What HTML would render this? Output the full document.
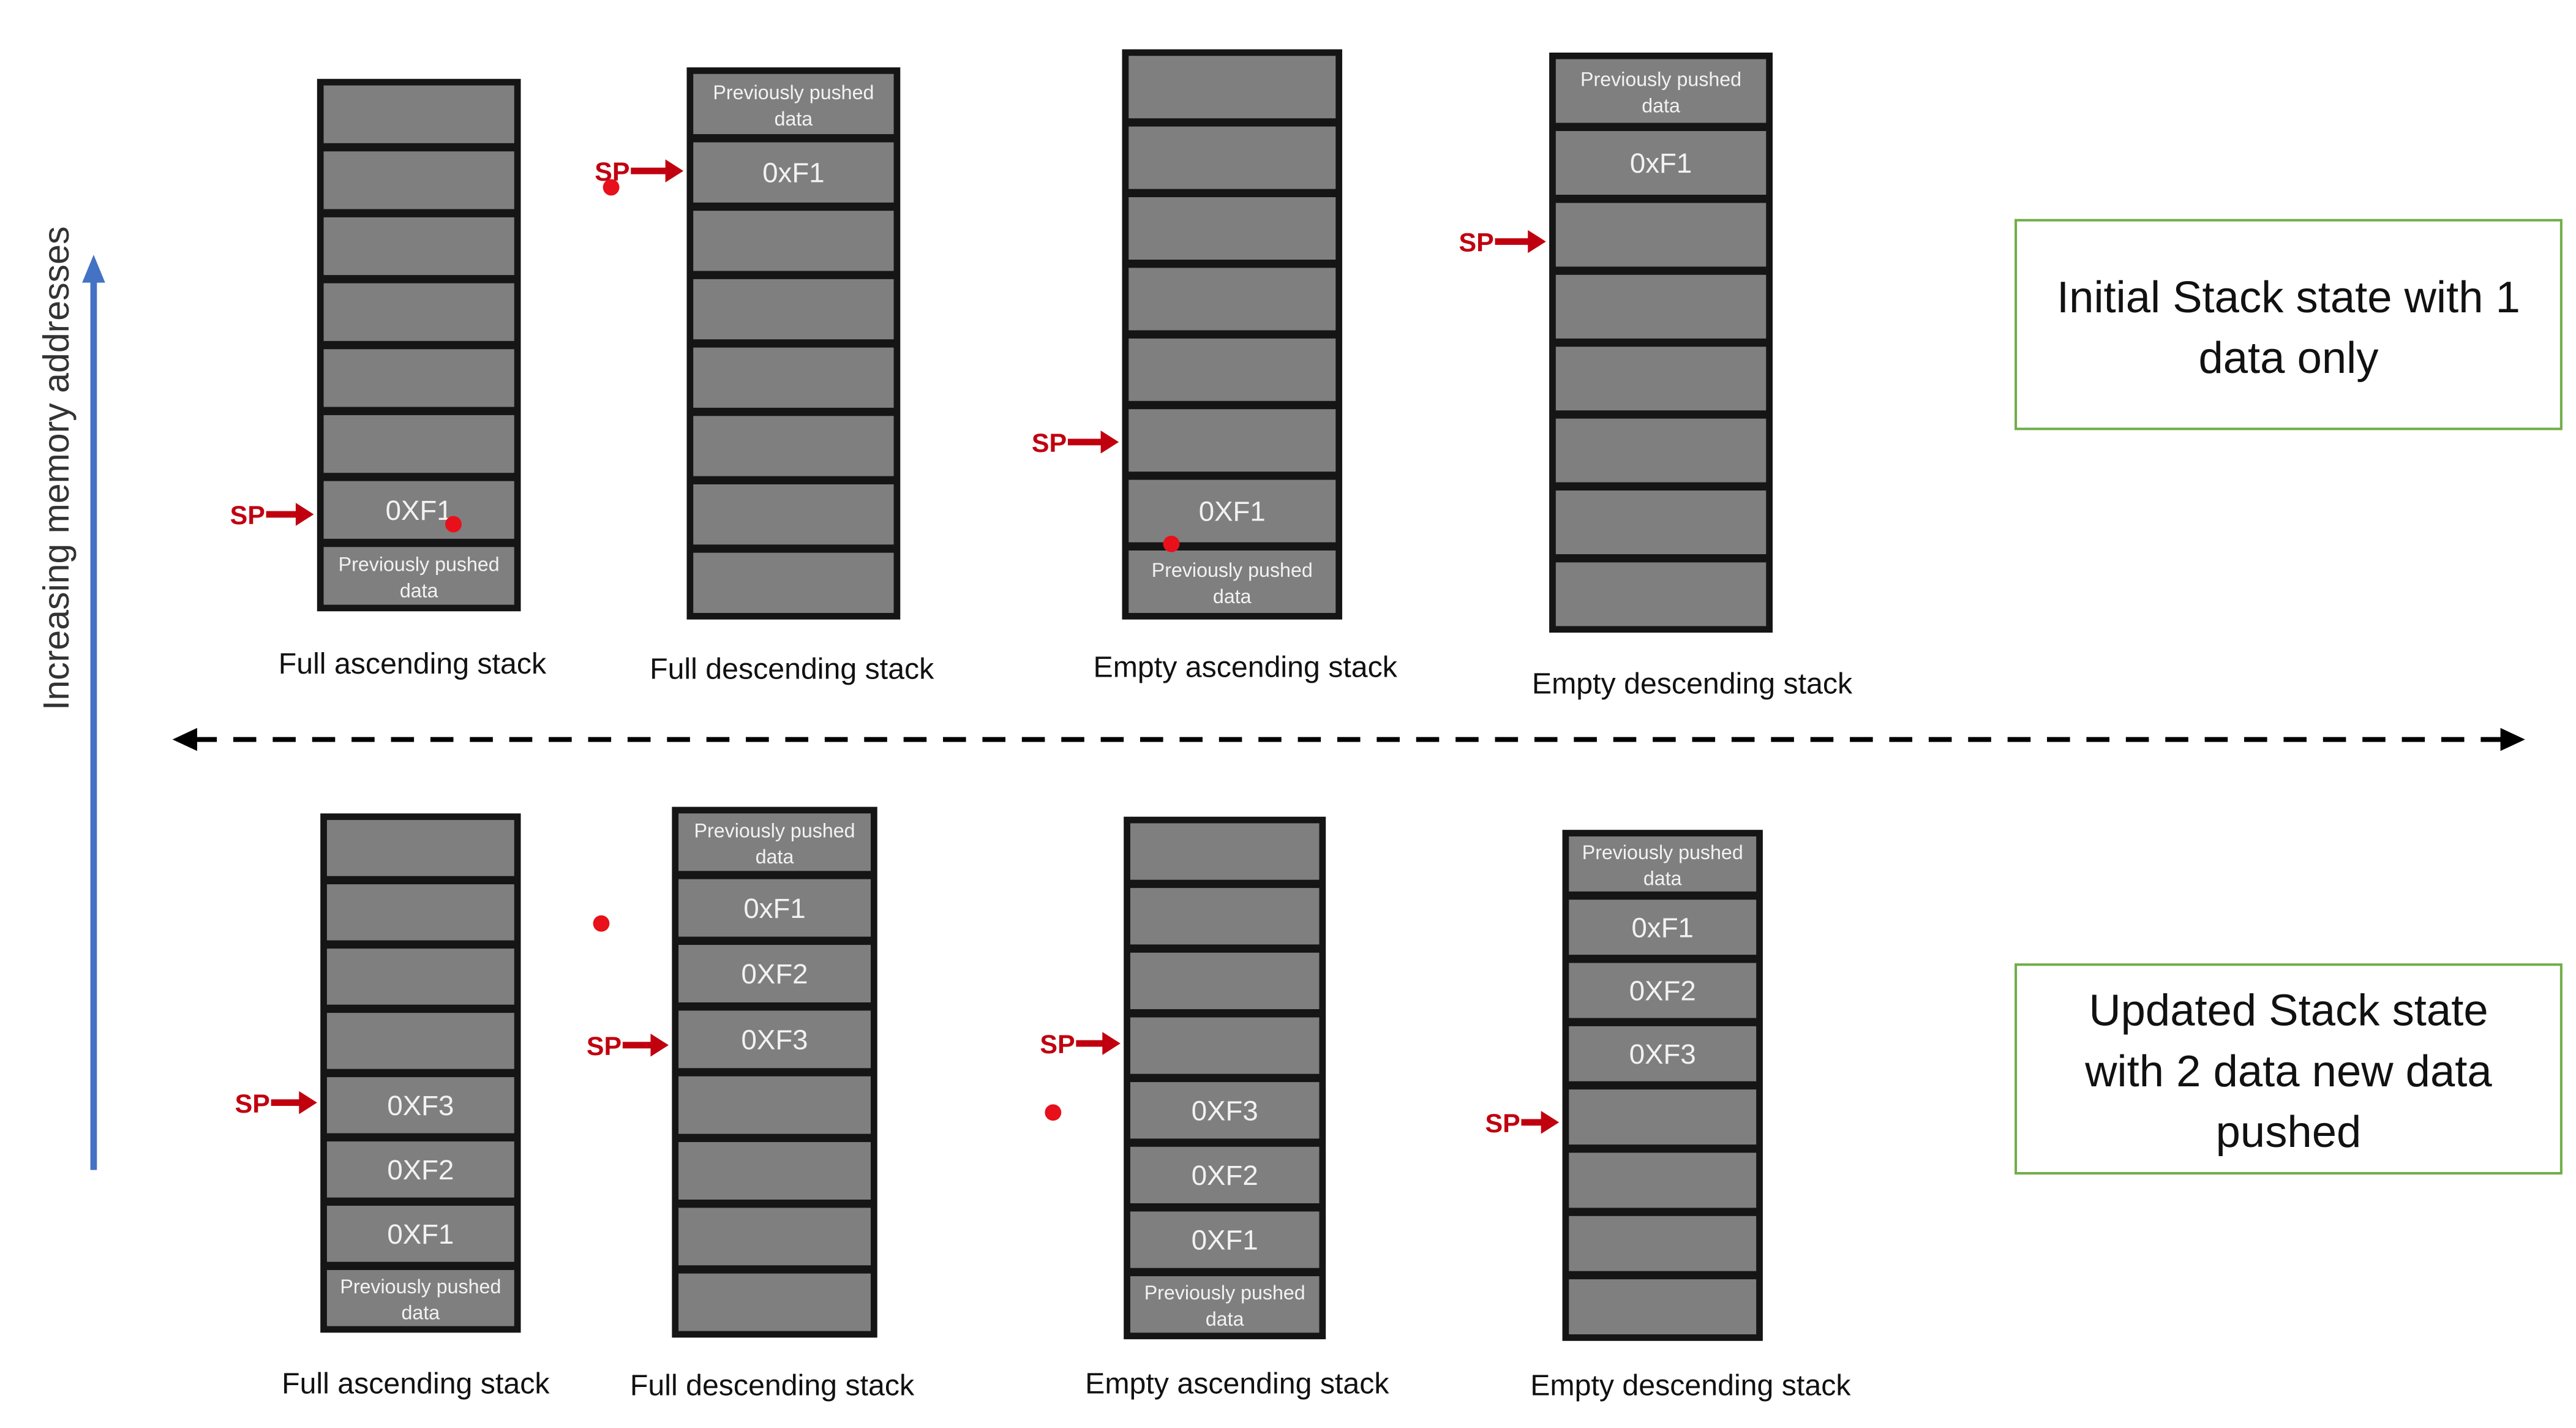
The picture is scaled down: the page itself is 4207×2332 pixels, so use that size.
<!DOCTYPE html>
<html><head><meta charset="utf-8"><style>
html,body{margin:0;padding:0;background:#fff;}
svg{display:block;}
text{font-family:"Liberation Sans",sans-serif;}
</style></head><body>
<svg width="4207" height="2332" viewBox="0 0 1568 869" preserveAspectRatio="none" xmlns="http://www.w3.org/2000/svg">
<defs>
<marker id="ra" markerWidth="4" markerHeight="4" refX="3.5" refY="2" orient="auto"><path d="M0,0 L4,2 L0,4 z" fill="#c0000f"/></marker>
</defs>
<rect width="1568" height="869" fill="#fff"/>
<g id="content"></g>
<!-- dashed separator -->
<line x1="118" y1="450" x2="1524" y2="450" stroke="#000" stroke-width="3" stroke-dasharray="14,10"/>
<path d="M105,450 L120,443 L120,457 z" fill="#000"/>
<path d="M1537,450 L1522,443 L1522,457 z" fill="#000"/>
<!-- blue arrow -->
<line x1="57" y1="712" x2="57" y2="170" stroke="#4472c4" stroke-width="4"/>
<path d="M57,155 L50,172 L64,172 z" fill="#4472c4"/>
<text x="36" y="285" font-size="22" fill="#333" text-anchor="middle" transform="rotate(-90 36 285)" dominant-baseline="middle">Increasing memory addresses</text>
<!-- green boxes -->
<rect x="1227" y="134" width="332" height="127" fill="#fff" stroke="#70ad47" stroke-width="1.5"/>
<text x="1393" y="190" font-size="27" fill="#111" text-anchor="middle">Initial Stack state with 1</text>
<text x="1393" y="227" font-size="27" fill="#111" text-anchor="middle">data only</text>
<rect x="1227" y="587" width="332" height="127" fill="#fff" stroke="#70ad47" stroke-width="1.5"/>
<text x="1393" y="624" font-size="27" fill="#111" text-anchor="middle">Updated Stack state</text>
<text x="1393" y="661" font-size="27" fill="#111" text-anchor="middle">with 2 data new data</text>
<text x="1393" y="698" font-size="27" fill="#111" text-anchor="middle">pushed</text>
</svg>
<script>
const g=document.getElementById('content');
const NS='http://www.w3.org/2000/svg';
function el(t,a,txt){const e=document.createElementNS(NS,t);for(const k in a)e.setAttribute(k,a[k]);if(txt!==undefined)e.textContent=txt;g.appendChild(e);return e;}
function stack(x,y,w,h,cells){
 el('rect',{x:x,y:y,width:w,height:h,fill:'#151515'});
 const b=4,gap=5,n=cells.length;
 const ch=(h-2*b-(n-1)*gap)/n;
 cells.forEach((c,i)=>{
  const cy=y+b+i*(ch+gap);
  el('rect',{x:x+b,y:cy,width:w-2*b,height:ch,fill:'#7f7f7f'});
  const cx=x+w/2;
  if(c==='P'){
   el('text',{x:cx,y:cy+ch/2-3,'font-size':12,fill:'#f2f2f2','text-anchor':'middle'},'Previously pushed');
   el('text',{x:cx,y:cy+ch/2+13,'font-size':12,fill:'#f2f2f2','text-anchor':'middle'},'data');
  } else if(c){
   el('text',{x:cx,y:cy+ch/2+6,'font-size':17,fill:'#f2f2f2','text-anchor':'middle'},c);
  }
 });
}
function sp(x,y,tip){
 el('text',{x:x,y:y+6,'font-size':16,'font-weight':'bold',fill:'#c0000f'},'SP');
 el('line',{x1:x+22,y1:y,x2:tip-8,y2:y,stroke:'#c0000f','stroke-width':4});
 el('path',{d:`M${tip},${y} L${tip-11},${y-7} L${tip-11},${y+7} z`,fill:'#c0000f'});
}
function dot(x,y){el('circle',{cx:x,cy:y,r:5,fill:'#e8101a'});}
function label(x,y,t){el('text',{x:x,y:y,'font-size':18,fill:'#111','text-anchor':'middle'},t);}
stack(193,48,124,324,['','','','','','','0XF1','P']); sp(140,313,191); dot(276,319); label(251,410,'Full ascending stack');
stack(418,41,130,336,['P','0xF1','','','','','','']); sp(362,104,416); dot(372,114); label(482,413,'Full descending stack');
stack(683,30,134,347,['','','','','','','0XF1','P']); sp(628,269,681); dot(713,331); label(758,412,'Empty ascending stack');
stack(943,32,136,353,['P','0xF1','','','','','','']); sp(888,147,941); label(1030,422,'Empty descending stack');
stack(195,495,122,316,['','','','','0XF3','0XF2','0XF1','P']); sp(143,671,193); label(253,848,'Full ascending stack');
stack(409,491,125,323,['P','0xF1','0XF2','0XF3','','','','']); sp(357,636,407); dot(366,562); label(470,849,'Full descending stack');
stack(684,497,123,318,['','','','','0XF3','0XF2','0XF1','P']); sp(633,635,682); dot(641,677); label(753,848,'Empty ascending stack');
stack(951,505,122,311,['P','0xF1','0XF2','0XF3','','','','']); sp(904,683,949); label(1029,849,'Empty descending stack');
</script>
</body></html>
